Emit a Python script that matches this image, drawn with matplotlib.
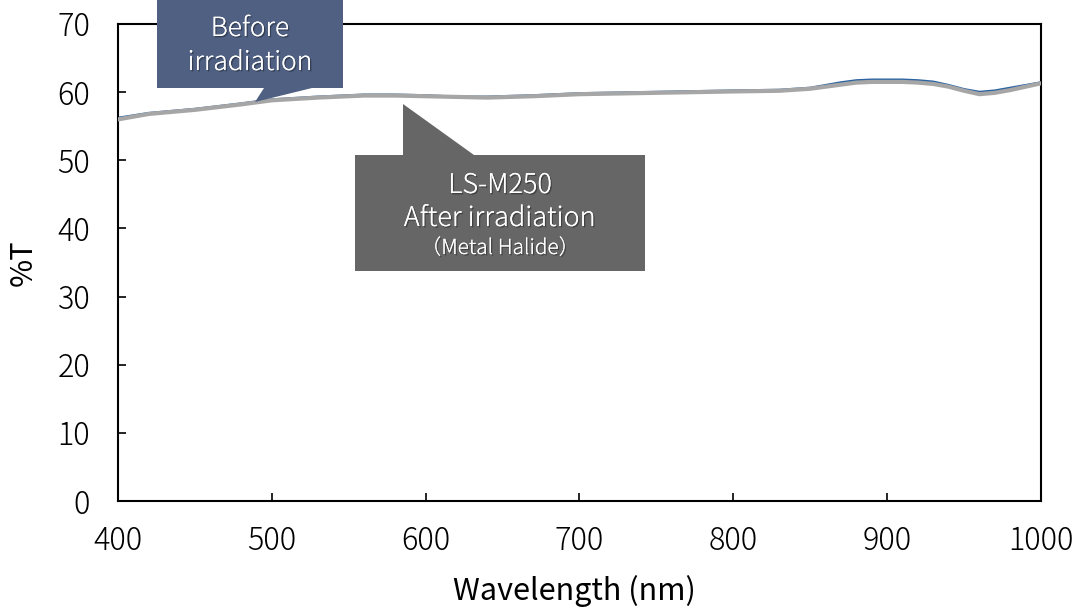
import matplotlib
matplotlib.use("Agg")
import matplotlib.pyplot as plt
from matplotlib.patches import Polygon
import matplotlib.patheffects as pe

plt.rcParams['font.family'] = ['Noto Sans CJK JP', 'DejaVu Sans']
plt.rcParams['font.weight'] = 'light'

# wavelength (nm) and %T
wavelength = [400, 420, 450, 480, 500, 530, 560, 580, 600, 620, 640, 670, 700,
              750, 800, 830, 850, 860, 870, 880, 890, 900, 910, 920, 930, 940,
              950, 960, 970, 980, 990, 1000]
before_irr = [56.2, 56.9, 57.5, 58.3, 58.9, 59.3, 59.6, 59.6, 59.5, 59.3, 59.3,
              59.5, 59.8, 60.0, 60.2, 60.3, 60.6, 61.0, 61.4, 61.7, 61.8, 61.8,
              61.8, 61.7, 61.5, 61.0, 60.4, 60.0, 60.2, 60.6, 61.0, 61.4]
after_irr = [56.0, 56.8, 57.4, 58.2, 58.8, 59.2, 59.5, 59.5, 59.4, 59.3, 59.2,
             59.4, 59.7, 59.9, 60.1, 60.2, 60.5, 60.8, 61.1, 61.4, 61.5, 61.5,
             61.5, 61.4, 61.2, 60.8, 60.2, 59.7, 59.9, 60.3, 60.8, 61.3]

x_ticks = [400, 500, 600, 700, 800, 900, 1000]
y_ticks = [0, 10, 20, 30, 40, 50, 60, 70]

W, H = 1077, 608
fig = plt.figure(figsize=(W / 100, H / 100), dpi=100)
ax = fig.add_axes([118 / W, 1 - 501 / H, (1041 - 118) / W, (501 - 24) / H])

ax.plot(wavelength, before_irr, color="#2e64a2", lw=2.0, zorder=2)
ax.plot(wavelength, after_irr, color="#a6a6a6", lw=3.0, zorder=3)

ax.set_xlim(400, 1000)
ax.set_ylim(0, 70)
ax.set_xticks(x_ticks)
ax.set_yticks(y_ticks)
ax.tick_params(direction="in", length=6, width=1.2, labelsize=22, colors="black")
ax.tick_params(axis="x", pad=17)
ax.tick_params(axis="y", pad=20)
for s in ax.spines.values():
    s.set_linewidth(1.5)
ax.set_xlabel("Wavelength (nm)", fontsize=22)
ax.set_ylabel("%T", fontsize=22)
ax.xaxis.set_label_coords(0.495, -0.155)
ax.yaxis.set_label_coords(-0.086, 0.5)


def px(x, y):
    return (x / W, 1 - y / H)


# callout shapes (pixel positions)
before_box = [px(157, 0), px(343, 0), px(343, 88), px(312, 88), px(255, 102),
              px(264, 88), px(157, 88)]
after_box = [px(355, 155), px(403, 155), px(403, 104), px(474, 155), px(645, 155),
             px(645, 271), px(355, 271)]
fig.patches.append(Polygon(before_box, closed=True, transform=fig.transFigure,
                           facecolor="#4f6082", edgecolor="none", zorder=5))
fig.patches.append(Polygon(after_box, closed=True, transform=fig.transFigure,
                           facecolor="#666666", edgecolor="none", zorder=5))

shadow = [pe.withSimplePatchShadow(offset=(1, -1), shadow_rgbFace="black", alpha=0.35),
          pe.Normal()]


def label(x, y, s, size):
    fig.text(*px(x, y), s, color="white", fontsize=size, ha="center",
             va="baseline", zorder=6, path_effects=shadow)


label(250, 36, "Before", 19)
label(250, 70, "irradiation", 19)
label(500, 193, "LS-M250", 19.5)
label(500, 226, "After irradiation", 19.5)
label(500, 254, "（Metal Halide）", 15)

fig.savefig("out.png", dpi=100)
